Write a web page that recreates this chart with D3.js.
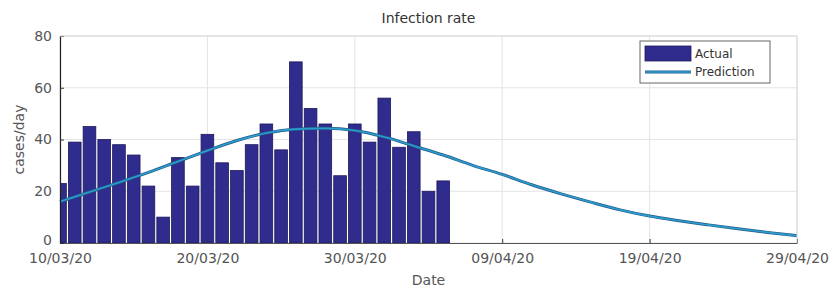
<!DOCTYPE html>
<html>
<head>
<meta charset="utf-8">
<script src="https://cdn.jsdelivr.net/npm/d3@7"></script>
<style>
  body { margin: 0; background: #fff; }
  svg text { font-family: "DejaVu Sans", sans-serif; }
</style>
</head>
<body>
<div id="chart"></div>
<script>
// actual daily cases, one per day from 10/03/20
const actualStart = "2020-03-10";
const actualValues = [23, 39, 45, 40, 38, 34, 22, 10, 33, 22, 42, 31, 28, 38,
  46, 36, 70, 52, 46, 26, 46, 39, 56, 37, 43, 20, 24];

// model prediction, read every 2 days from 10/03/20
const predStart = "2020-03-10";
const predStep = 2;
const predValues = [16, 19.7, 23.4, 27.3, 31.5, 35.7, 39.6, 42.5, 44, 44.3, 43.5, 41, 37.5,
  34, 30, 26.5, 22.5, 19, 15.8, 12.8, 10.4, 8.6, 7, 5.5, 4.1, 2.8];

const xTickLabels = ["10/03/20", "20/03/20", "30/03/20", "09/04/20", "19/04/20", "29/04/20"];
const yTicks = [0, 20, 40, 60, 80];

const W = 833, H = 288;
const margin = { top: 36, right: 36, bottom: 45, left: 60 };

const parse = d3.utcParse("%Y-%m-%d");
const parseTick = d3.utcParse("%d/%m/%y");
const DAY = 864e5;

const actual = actualValues.map((v, i) => ({ date: new Date(parse(actualStart).getTime() + i * DAY), value: v }));
const pred = predValues.map((v, i) => ({ date: new Date(parse(predStart).getTime() + i * predStep * DAY), value: v }));
const tickDates = xTickLabels.map(parseTick);

const svg = d3.select("#chart").append("svg")
  .attr("width", W).attr("height", H);

const x = d3.scaleUtc()
  .domain([tickDates[0], tickDates[tickDates.length - 1]])
  .range([margin.left, W - margin.right]);

const y = d3.scaleLinear()
  .domain([0, 80])
  .range([H - margin.bottom, margin.top]);

const dayW = x(new Date(tickDates[0].getTime() + DAY)) - x(tickDates[0]);
const barW = dayW * 0.86;

// grid
svg.append("g")
  .selectAll("line.v")
  .data(tickDates)
  .join("line")
  .attr("x1", d => x(d)).attr("x2", d => x(d))
  .attr("y1", y(0)).attr("y2", y(80))
  .attr("stroke", "#e4e4e4").attr("stroke-width", 1);

svg.append("g")
  .selectAll("line.h")
  .data(yTicks)
  .join("line")
  .attr("x1", x.range()[0]).attr("x2", x.range()[1])
  .attr("y1", d => y(d)).attr("y2", d => y(d))
  .attr("stroke", "#e4e4e4").attr("stroke-width", 1);

svg.append("clipPath").attr("id", "plotclip")
  .append("rect")
  .attr("x", x.range()[0]).attr("y", y(80))
  .attr("width", x.range()[1] - x.range()[0])
  .attr("height", y(0) - y(80));

// bars
svg.append("g")
  .attr("clip-path", "url(#plotclip)")
  .selectAll("rect")
  .data(actual)
  .join("rect")
  .attr("x", d => x(d.date) - barW / 2)
  .attr("y", d => y(d.value))
  .attr("width", barW)
  .attr("height", d => y(0) - y(d.value))
  .attr("fill", "#2f2c8e")
  .attr("stroke", "#1d1a5c")
  .attr("stroke-width", 0.8);

// prediction line
const line = d3.line()
  .x(d => x(d.date))
  .y(d => y(d.value))
  .curve(d3.curveMonotoneX);

svg.append("path")
  .datum(pred)
  .attr("fill", "none")
  .attr("stroke", "#245e86")
  .attr("stroke-width", 3)
  .attr("d", line);
svg.append("path")
  .datum(pred)
  .attr("fill", "none")
  .attr("stroke", "#2b9bd0")
  .attr("stroke-width", 1.6)
  .attr("d", line);

// axes
const xAxis = svg.append("g")
  .attr("transform", `translate(0,${y(0)})`)
  .call(d3.axisBottom(x).tickValues(tickDates).tickFormat(d3.utcFormat("%d/%m/%y"))
    .tickSizeInner(-4).tickSizeOuter(0).tickPadding(10));
xAxis.select(".domain").attr("stroke", "#555");
xAxis.selectAll(".tick line").attr("stroke", "#333");
xAxis.selectAll("text").attr("fill", "#555").style("font-size", "14px");

const yAxis = svg.append("g")
  .attr("transform", `translate(${margin.left},0)`)
  .call(d3.axisLeft(y).tickValues(yTicks).tickSizeInner(-4).tickSizeOuter(0).tickPadding(8));
yAxis.select(".domain").attr("stroke", "#222").attr("stroke-width", 1.2);
yAxis.selectAll(".tick line").attr("stroke", "#333");
yAxis.selectAll("text").attr("fill", "#555").style("font-size", "14px");
// nudge the 0 label up a little so it clears the first date label
yAxis.selectAll(".tick").filter(d => d === 0).select("text").attr("dy", "0.1em");

// light box top and right
svg.append("line")
  .attr("x1", x.range()[0]).attr("x2", x.range()[1])
  .attr("y1", y(80)).attr("y2", y(80))
  .attr("stroke", "#d8d8d8");
svg.append("line")
  .attr("x1", x.range()[1]).attr("x2", x.range()[1])
  .attr("y1", y(80)).attr("y2", y(0))
  .attr("stroke", "#d8d8d8");

// labels
svg.append("text")
  .attr("x", (x.range()[0] + x.range()[1]) / 2)
  .attr("y", 23)
  .attr("text-anchor", "middle")
  .attr("fill", "#333")
  .style("font-size", "14px")
  .text("Infection rate");

svg.append("text")
  .attr("x", (x.range()[0] + x.range()[1]) / 2)
  .attr("y", 285)
  .attr("text-anchor", "middle")
  .attr("fill", "#555")
  .style("font-size", "14px")
  .text("Date");

svg.append("text")
  .attr("transform", `translate(24,${(y(0) + y(80)) / 2}) rotate(-90)`)
  .attr("text-anchor", "middle")
  .attr("fill", "#555")
  .style("font-size", "14px")
  .text("cases/day");

// legend
const lg = svg.append("g").attr("transform", "translate(640,41)");
lg.append("rect")
  .attr("width", 130).attr("height", 42)
  .attr("fill", "#fff").attr("stroke", "#666").attr("stroke-width", 1);
lg.append("rect")
  .attr("x", 5).attr("y", 5).attr("width", 46).attr("height", 15)
  .attr("fill", "#2f2c8e").attr("stroke", "#1d1a5c").attr("stroke-width", 0.8);
lg.append("line")
  .attr("x1", 5).attr("x2", 51).attr("y1", 31).attr("y2", 31)
  .attr("stroke", "#245e86").attr("stroke-width", 3);
lg.append("line")
  .attr("x1", 5).attr("x2", 51).attr("y1", 31).attr("y2", 31)
  .attr("stroke", "#2b9bd0").attr("stroke-width", 1.6);
lg.append("text").attr("x", 55).attr("y", 17)
  .attr("fill", "#333").style("font-size", "12px").text("Actual");
lg.append("text").attr("x", 55).attr("y", 35)
  .attr("fill", "#333").style("font-size", "12px").text("Prediction");
</script>
</body>
</html>
